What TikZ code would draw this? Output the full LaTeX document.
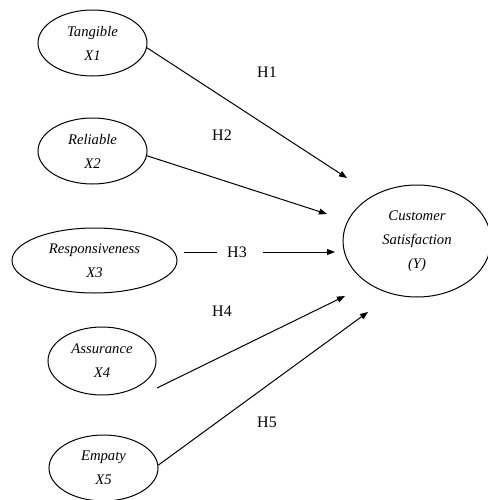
\documentclass[tikz,border=0pt]{standalone}
\usepackage{fontspec}
\setmainfont{Liberation Serif}
\usetikzlibrary{shapes,arrows.meta,positioning}

\begin{document}
\begin{tikzpicture}[x=0.75pt,y=0.75pt,yscale=-1,xscale=1,
  construct/.style={draw, ellipse, line width=0.75pt, inner sep=0pt, align=center, font=\fontsize{11}{18}\selectfont\itshape},
  hlabel/.style={inner sep=0.75pt, font=\fontsize{12}{14}\selectfont},
  hyp/.style={draw, line width=0.75pt, -{Triangle[length=6pt,width=4.5pt]}}]
\path[use as bounding box] (0,0) rectangle (488,500);

%Shape: Ellipse
\node[construct, minimum width=81.75pt, minimum height=49.5pt] (tangible) at (92.5,43) {Tangible\\X1};
%Shape: Ellipse
\node[construct, minimum width=81.75pt, minimum height=49.5pt] (reliable) at (92.5,151) {Reliable\\X2};
%Shape: Ellipse
\node[construct, minimum width=123.75pt, minimum height=48.75pt] (respons) at (94.5,260.5) {Responsiveness\\X3};
%Shape: Ellipse
\node[construct, minimum width=81pt, minimum height=51pt] (assurance) at (102,361) {Assurance\\X4};
%Shape: Ellipse
\node[construct, minimum width=81.75pt, minimum height=49.5pt] (empaty) at (103.5,468) {Empaty\\X5};
%Shape: Ellipse
\node[construct, minimum width=111pt, minimum height=84pt] (cs) at (417,241) {Customer\\Satisfaction\\(Y)};

% Text Node
\node[hlabel] (h1) at (267,72) {H1};
% Text Node
\node[hlabel] (h2) at (222,135) {H2};
% Text Node
\node[hlabel] (h3) at (237,252) {H3};
% Text Node
\node[hlabel] (h4) at (222,311) {H4};
% Text Node
\node[hlabel] (h5) at (267,422) {H5};

\coordinate (h1tip) at (347,178);
\coordinate (h2tip) at (327,214);
\coordinate (h3tip) at (335,252);
\coordinate (h4tail) at (157,388);
\coordinate (h4tip) at (345,296);
\coordinate (h5tip) at (368,312);

%Straight Lines
\draw[hyp] (tangible.-5) -- (h1tip);
\draw[hyp] (reliable.-5) -- (h2tip);
\draw[line width=0.75pt, shorten <=5pt, shorten >=7pt] (respons.east |- h3) -- (h3);
\draw[hyp, shorten <=11pt] (h3) -- (h3tip);
\draw[hyp] (h4tail) -- (h4tip);
\draw[hyp] (empaty.3) -- (h5tip);

\end{tikzpicture}
\end{document}
